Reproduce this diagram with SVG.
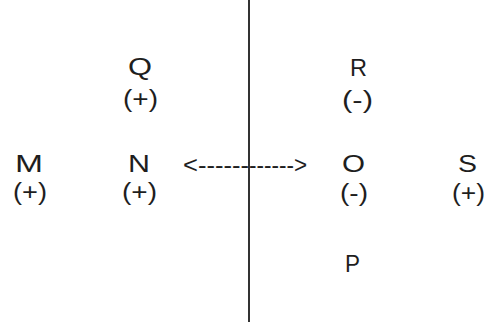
<svg xmlns="http://www.w3.org/2000/svg" width="486" height="331" viewBox="0 0 486 331">
<style>
text{font-family:"Liberation Sans",Arial,sans-serif;font-size:23px;fill:#1e1e1e;}
</style>
<rect width="486" height="331" fill="#fff"/>
<g id="connectors">
<line x1="249" y1="0" x2="249" y2="322" stroke="#333" stroke-width="2"/>
<text x="183" y="173" textLength="66" lengthAdjust="spacingAndGlyphs">&lt;------</text>
<text x="249" y="173" textLength="58" lengthAdjust="spacingAndGlyphs">------&gt;</text>
</g>
<g id="M"><text x="15" y="172" textLength="28" lengthAdjust="spacingAndGlyphs">M</text><text x="13" y="200" textLength="34" lengthAdjust="spacingAndGlyphs">(+)</text></g>
<g id="N"><text x="128" y="172" textLength="22" lengthAdjust="spacingAndGlyphs">N</text><text x="122" y="200" textLength="35" lengthAdjust="spacingAndGlyphs">(+)</text></g>
<g id="Q"><text x="128" y="75" textLength="24" lengthAdjust="spacingAndGlyphs">Q</text><text x="123" y="107" textLength="35" lengthAdjust="spacingAndGlyphs">(+)</text></g>
<g id="R"><text x="350" y="76" textLength="17" lengthAdjust="spacingAndGlyphs">R</text><text x="342" y="108" textLength="31" lengthAdjust="spacingAndGlyphs">(-)</text></g>
<g id="O"><text x="342" y="172" textLength="23" lengthAdjust="spacingAndGlyphs">O</text><text x="340" y="201" textLength="28" lengthAdjust="spacingAndGlyphs">(-)</text></g>
<g id="S"><text x="458" y="172" textLength="19" lengthAdjust="spacingAndGlyphs">S</text><text x="452" y="201" textLength="33" lengthAdjust="spacingAndGlyphs">(+)</text></g>
<g id="P"><text x="345" y="272" textLength="15" lengthAdjust="spacingAndGlyphs">P</text></g>
</svg>
